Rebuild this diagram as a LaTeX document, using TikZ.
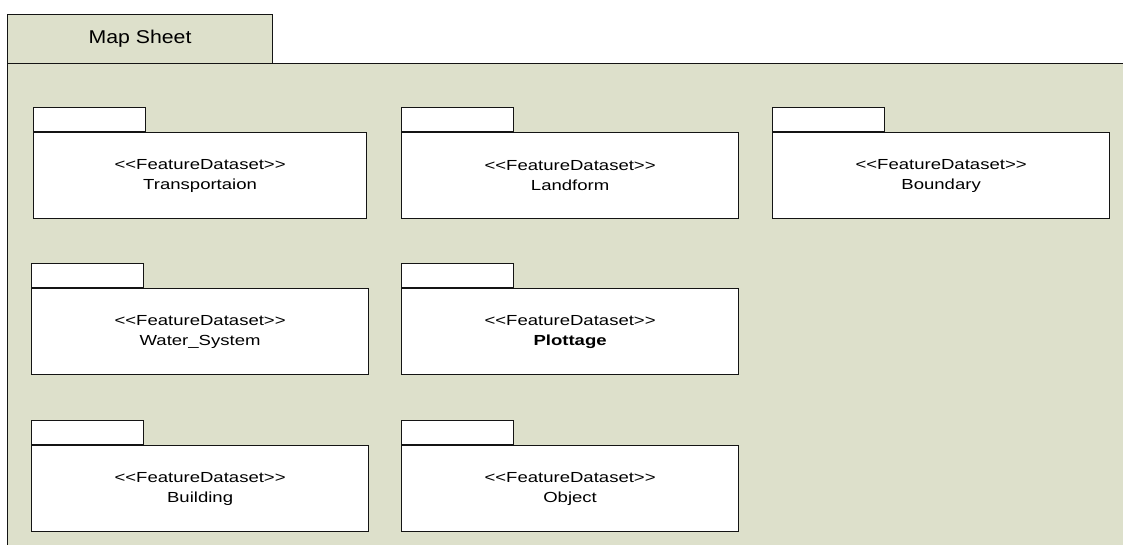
\documentclass[tikz,border=0pt]{standalone}
\usepackage{fontspec}
\setmainfont{Liberation Sans}
\newfontfamily\pkgfont[FakeStretch=1.27]{Liberation Sans}
\newfontfamily\titlefont[FakeStretch=1.15]{Liberation Sans}
\newcommand\stereotype[1]{<\kern0pt<#1>\kern0pt>}
\definecolor{sheetfill}{RGB}{221,224,203}
\definecolor{edge}{RGB}{20,20,20}
\tikzset{
  sheetpart/.style={draw=edge, fill=sheetfill, line width=1.1pt, inner sep=0pt, anchor=north west},
  pkgbody/.style={draw=edge, fill=white, line width=1.2pt, inner sep=0pt, anchor=north west,
    minimum width=335pt, minimum height=86pt, align=center,
    font={\pkgfont\fontsize{14.6}{20}\selectfont}},
  pkgtab/.style={draw=edge, fill=white, line width=1.2pt, inner sep=0pt, anchor=south west,
    minimum width=112pt, minimum height=24pt},
}
\begin{document}
\begin{tikzpicture}[x=1pt, y=-1pt]
  \useasboundingbox (0,0) rectangle (1123,544);
  % the enclosing "Map Sheet" package
  \node[sheetpart, minimum width=1130pt, minimum height=500pt] (sheet) at (7,63) {};
  \node[sheetpart, minimum width=265pt, minimum height=49pt,
        font={\titlefont\fontsize{18.5}{20}\selectfont}] (sheettab) at (7,14) {Map Sheet};

  % feature dataset packages, first row
  \node[pkgbody, minimum width=333pt] (trans) at (33,132) {\stereotype{FeatureDataset}\\Transportaion};
  \node[pkgbody, minimum width=337pt] (land) at (401,132) {\stereotype{FeatureDataset}\\Landform};
  \node[pkgbody, minimum width=337pt] (bound) at (772,132) {\stereotype{FeatureDataset}\\Boundary};
  % second row
  \node[pkgbody, minimum width=337pt] (water) at (31,288) {\stereotype{FeatureDataset}\\Water\_System};
  \node[pkgbody, minimum width=337pt] (plot) at (401,288) {\stereotype{FeatureDataset}\\\textbf{Plottage}};
  % third row
  \node[pkgbody, minimum width=337pt] (build) at (31,445) {\stereotype{FeatureDataset}\\Building};
  \node[pkgbody, minimum width=337pt] (obj) at (401,445) {\stereotype{FeatureDataset}\\Object};

  % package tabs
  \foreach \p in {trans,land,bound,water,plot,build,obj}
    \node[pkgtab] (\p tab) at (\p.north west) {};
\end{tikzpicture}
\end{document}
